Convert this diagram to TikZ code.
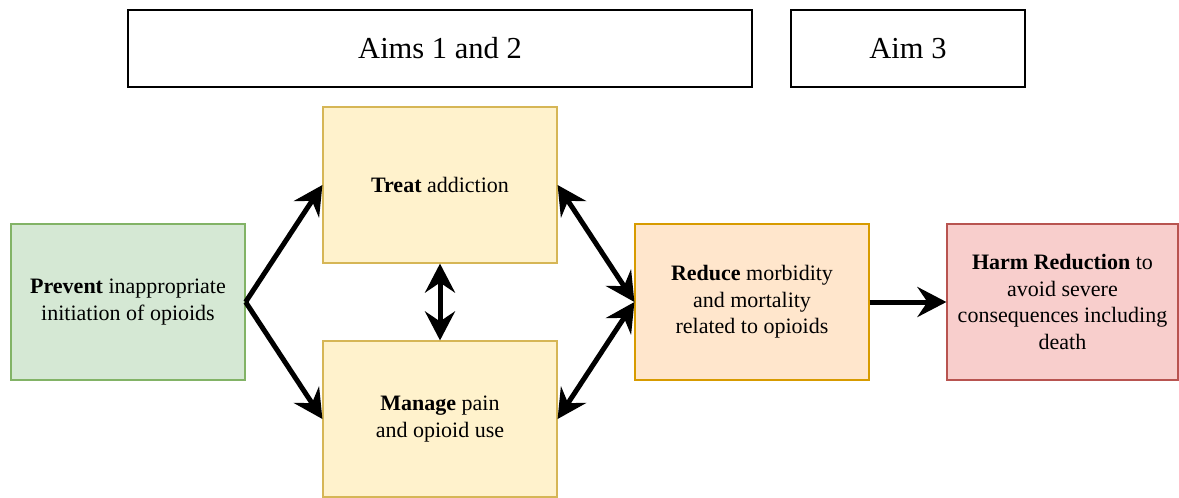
\documentclass[tikz,border=0pt]{standalone}
\usepackage{fontspec}
\setmainfont{Liberation Serif}
\usetikzlibrary{arrows.meta}
\begin{document}
\begin{tikzpicture}[x=1pt,y=-1pt,
  box/.style={draw, line width=1.2pt, minimum width=234pt, minimum height=156pt, align=center, inner sep=0pt,
    font=\fontsize{22}{26.5}\selectfont},
  aim/.style={draw=black, line width=1.3pt, minimum height=77pt, inner sep=0pt, font=\fontsize{30.5}{36}\selectfont},
  green/.style={box, fill={rgb,255:red,213;green,232;blue,212}, draw={rgb,255:red,130;green,179;blue,102}},
  yellow/.style={box, fill={rgb,255:red,255;green,242;blue,204}, draw={rgb,255:red,214;green,182;blue,86}},
  orange/.style={box, fill={rgb,255:red,255;green,230;blue,204}, draw={rgb,255:red,215;green,155;blue,0}},
  red/.style={box, fill={rgb,255:red,248;green,206;blue,204}, draw={rgb,255:red,184;green,84;blue,80}},
  tip/.tip={Stealth[length=29pt,width=30pt,inset=10pt]},
  conn/.style={line width=5pt, -tip},
  bconn/.style={line width=5pt, tip-tip}
]
\useasboundingbox (0,0) rectangle (1179,498);
\node[aim, minimum width=624pt] (aims12) at (440,48.5) {Aims 1 and 2};
\node[aim, minimum width=234pt] (aim3) at (908,48.5) {Aim 3};
\node[green] (prevent) at (128,302) {\textbf{Prevent} inappropriate\\initiation of opioids};
\node[yellow] (treat) at (440,185) {\textbf{Treat} addiction};
\node[yellow] (manage) at (440,419) {\textbf{Manage} pain\\and opioid use};
\node[orange] (reduce) at (752,302) {\textbf{Reduce} morbidity\\and mortality\\related to opioids};
\node[red, minimum width=231pt] (harm) at (1062.5,302) {\textbf{Harm Reduction} to\\avoid severe\\consequences including\\death};
\draw[conn] (prevent.east) -- (treat.west);
\draw[conn] (prevent.east) -- (manage.west);
\draw[bconn] (treat.east) -- (reduce.west);
\draw[bconn] (manage.east) -- (reduce.west);
\draw[bconn] (treat.south) -- (manage.north);
\draw[conn] (reduce.east) -- (harm.west);
\end{tikzpicture}
\end{document}
